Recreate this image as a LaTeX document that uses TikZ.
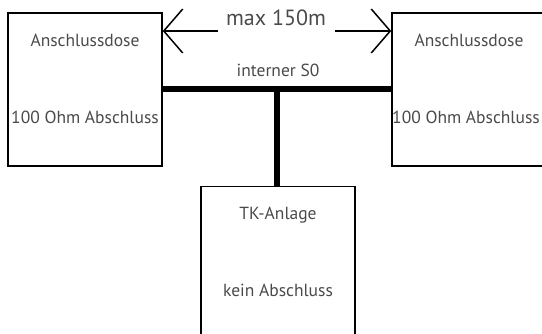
\documentclass[tikz,border=0pt]{standalone}
\usepackage{fontspec}
\setmainfont{PT Sans}
\usetikzlibrary{arrows.meta}
\definecolor{txt}{HTML}{4A4A4A}
\tikzset{
  box/.style={draw=black, line width=1.5pt, minimum width=154pt, minimum height=153pt, inner sep=0pt},
  lbl/.style={text=txt, font=\fontsize{17.5}{20}\selectfont, inner sep=0pt, anchor=base},
  bus/.style={line width=6pt, black},
  dist/.style={line width=1.5pt, -{Straight Barb[length=19pt, width=44pt, line width=1.5pt]}}
}
\begin{document}
\begin{tikzpicture}[x=1pt, y=-1pt]
\useasboundingbox (0,0) rectangle (542,334);
\clip (0,0) rectangle (542,334);
\node[box] (L) at (85,89.5) {};
\node[box] (R) at (469,89.5) {};
\node[box] (T) at (278,263) {};
\node[lbl] (L1) at (85,47) {Anschlussdose};
\node[lbl] (L2) at (85,124) {100 Ohm Abschluss};
\node[lbl] (R1) at (469,47) {Anschlussdose};
\node[lbl] (R2) at (466,124) {100 Ohm Abschluss};
\node[lbl] (T1) at (278,220) {TK-Anlage};
\node[lbl] (T2) at (278,297) {kein Abschluss};
\node[lbl, font=\fontsize{22}{24}\selectfont] (M) at (276,26) {max 150m};
\node[lbl] (S) at (278,77) {interner S0};
\coordinate (a1) at (218,31);
\coordinate (a2) at (335,31);
\coordinate (j) at (277,89);
\draw[bus] (L.east |- j) -- (R.west |- j);
\draw[bus] (j) -- (j |- T.north);
\draw[dist] (a1) -- (L.east |- a1);
\draw[dist] (a2) -- (R.west |- a2);
\end{tikzpicture}
\end{document}
